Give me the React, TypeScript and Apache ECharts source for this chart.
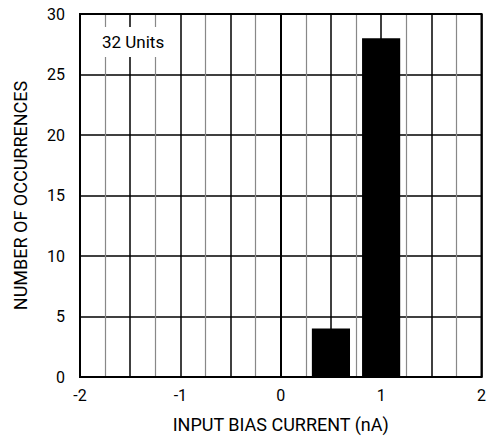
import React, { useEffect, useRef } from "react";
import * as echarts from "echarts";

const binCenters = [0.5, 1.0];
const counts = [4, 28];
const binWidth = 0.38;
const xTicks = [-2, -1, 0, 1, 2];
const yMax = 30;
const annotation = "32 Units";
const xTitle = "INPUT BIAS CURRENT (nA)";
const yTitle = "NUMBER OF OCCURRENCES";

const FONT = "Roboto, 'Noto Sans', sans-serif";

export default function App() {
  const ref = useRef<HTMLDivElement>(null);
  useEffect(() => {
    if (!ref.current) return;
    const chart = echarts.init(ref.current, null, { renderer: "svg" });
    const data = binCenters.map((c, i) => [c, counts[i]]);
    chart.setOption({
      animation: false,
      backgroundColor: "#fff",
      textStyle: { fontFamily: FONT },
      grid: {
        left: 80,
        right: 6,
        top: 14,
        bottom: 62,
        show: true,
        borderColor: "#000",
        borderWidth: 2,
        z: 10,
      },
      xAxis: {
        type: "value",
        min: -2,
        max: 2,
        interval: 0.5,
        name: xTitle,
        nameLocation: "middle",
        nameGap: 38,
        nameTextStyle: { color: "#000", fontSize: 18, fontFamily: FONT },
        axisLine: { show: true, lineStyle: { color: "#000", width: 2 } },
        axisTick: { show: false },
        axisLabel: {
          color: "#000",
          fontSize: 16,
          margin: 10,
          fontFamily: FONT,
          formatter: (v: number) => (xTicks.includes(v) ? String(v) : ""),
        },
        splitLine: { show: true, lineStyle: { color: "#000", width: 1.5 } },
        minorTick: { show: false, splitNumber: 2 },
        minorSplitLine: { show: true, lineStyle: { color: "#888", width: 1.2 } },
      },
      yAxis: {
        type: "value",
        min: 0,
        max: yMax,
        interval: 5,
        name: yTitle,
        nameLocation: "middle",
        nameGap: 51,
        nameTextStyle: { color: "#000", fontSize: 18, fontFamily: FONT },
        axisLine: { show: true, lineStyle: { color: "#000", width: 2 } },
        axisTick: { show: false },
        axisLabel: { color: "#000", fontSize: 16, margin: 15, fontFamily: FONT },
        splitLine: { show: true, lineStyle: { color: "#000", width: 1.5 } },
      },
      series: [
        {
          type: "custom",
          data,
          z: 5,
          renderItem: (params: any, api: any) => {
            const c = api.value(0);
            const v = api.value(1);
            const p0 = api.coord([c - binWidth / 2, v]);
            const p1 = api.coord([c + binWidth / 2, 0]);
            return {
              type: "rect",
              shape: { x: p0[0], y: p0[1], width: p1[0] - p0[0], height: p1[1] - p0[1] },
              style: { fill: "#000" },
            };
          },
        },
      ],
      graphic: [
        {
          type: "rect",
          shape: { x: 81, y: 27, width: 98, height: 30 },
          style: { fill: "#fff" },
          z: 20,
        },
        {
          type: "text",
          x: 102,
          y: 42,
          z: 21,
          style: {
            text: annotation,
            fill: "#000",
            fontSize: 17,
            fontFamily: FONT,
            verticalAlign: "middle",
          },
        },
      ],
    });
    return () => chart.dispose();
  }, []);
  return (
    <div
      ref={ref}
      style={{ position: "fixed", left: 0, top: 0, width: 489, height: 439 }}
    />
  );
}
